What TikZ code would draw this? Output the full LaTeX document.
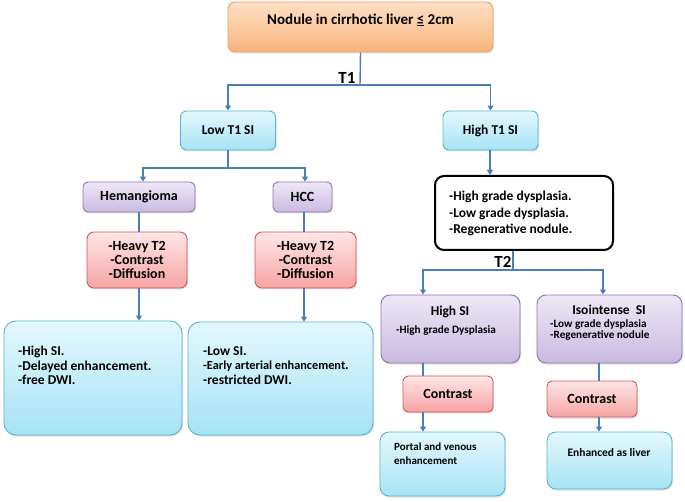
\documentclass[tikz,border=0pt]{standalone}
\usepackage{fontspec}
\setmainfont{Carlito}
\usetikzlibrary{arrows.meta,shadows}
\definecolor{lineblue}{HTML}{4A7EBB}
\definecolor{orT}{HTML}{FDE0C6}
\definecolor{orB}{HTML}{F9B47C}
\definecolor{orD}{HTML}{F5A05A}
\definecolor{blT}{HTML}{E4F8FD}
\definecolor{blB}{HTML}{A6E3F5}
\definecolor{blD}{HTML}{5AB4D0}
\definecolor{puT}{HTML}{EEE8F6}
\definecolor{puB}{HTML}{C9BAE0}
\definecolor{puD}{HTML}{8D74B0}
\definecolor{reT}{HTML}{FFE6E6}
\definecolor{reB}{HTML}{F6A3A3}
\definecolor{reD}{HTML}{CC5A57}
\tikzset{
  basebox/.style={rounded corners=7pt, line width=0.9pt, inner sep=0pt,
    drop shadow={shadow xshift=1pt, shadow yshift=-1.5pt, opacity=0.25}},
  orbox/.style={basebox, draw=orD, top color=orT, bottom color=orB},
  blbox/.style={basebox, draw=blD, top color=blT, bottom color=blB, rounded corners=12pt},
  pubox/.style={basebox, draw=puD, top color=puT, bottom color=puB},
  rebox/.style={basebox, draw=reD, top color=reT, bottom color=reB},
  bkbox/.style={rounded corners=9pt, draw=black, line width=2pt, fill=white, inner sep=0pt},
  txt/.style={font=\bfseries, align=left, inner sep=0pt},
  arr/.style={draw=lineblue, line width=1.4pt, -{Triangle[width=6pt,length=5pt]}},
  ln/.style={draw=lineblue, line width=1.4pt},
}
\begin{document}
\begin{tikzpicture}[x=1pt,y=-1pt]
\useasboundingbox (0,0) rectangle (685,502);
% boxes
\node[orbox, minimum width=265pt, minimum height=50pt] (top) at (360.5,27) {};
\node[txt, font=\bfseries\fontsize{15}{17}\selectfont] (toptxt) at (360.5,20) {Nodule in cirrhotic liver \underline{≤} 2cm};
\node[blbox, rounded corners=6pt, minimum width=95pt, minimum height=39pt, font=\bfseries\fontsize{13.5}{15}\selectfont] (lowt1) at (228,130.5) {Low T1 SI};
\node[blbox, rounded corners=6pt, minimum width=95pt, minimum height=39pt, font=\bfseries\fontsize{13.5}{15}\selectfont] (hight1) at (490.5,130.5) {High T1 SI};
\node[pubox, rounded corners=5pt, minimum width=112pt, minimum height=30pt, font=\bfseries\fontsize{14}{15}\selectfont] (hem) at (139,197) {Hemangioma};
\node[pubox, rounded corners=5pt, minimum width=59pt, minimum height=30pt, font=\bfseries\fontsize{14}{15}\selectfont] (hcc) at (302.5,197) {HCC};
\node[rebox, minimum width=100pt, minimum height=56pt, align=center, font=\bfseries\fontsize{14}{14}\selectfont] (red1) at (137,260) {-Heavy T2\\-Contrast\\-Diffusion};
\node[rebox, minimum width=101pt, minimum height=56pt, align=center, font=\bfseries\fontsize{14}{14}\selectfont] (red2) at (305.5,260) {-Heavy T2\\-Contrast\\-Diffusion};
\node[blbox, minimum width=178pt, minimum height=114pt] (blue1) at (93,378) {};
\node[txt, anchor=north west, font=\bfseries\fontsize{13.5}{14.5}\selectfont] (blue1txt) at (18,346) {-High SI.\\-Delayed enhancement.\\-free DWI.};
\node[blbox, minimum width=185pt, minimum height=113pt] (blue2) at (280.5,378.5) {};
\node[txt, anchor=north west, font=\bfseries\fontsize{13.5}{14.5}\selectfont] (blue2txt) at (203,346) {-Low SI.\\{\fontsize{12.3}{14.5}\selectfont -Early arterial enhancement}.\\-restricted DWI.};
\node[bkbox, minimum width=178pt, minimum height=74pt] (black) at (524,213) {};
\node[txt, anchor=north west, font=\bfseries\fontsize{13.5}{16.5}\selectfont] (blacktxt) at (449,191) {-High grade dysplasia.\\-Low grade dysplasia.\\-Regenerative nodule.};
\node[pubox, rounded corners=9pt, minimum width=139pt, minimum height=68pt] (hsi) at (450.5,329) {};
\node[txt, font=\bfseries\fontsize{13.5}{15}\selectfont] (hsititle) at (450,312) {High SI};
\node[txt, font=\bfseries\fontsize{11.2}{12}\selectfont] (hsisub) at (446,331) {-High grade Dysplasia};
\node[pubox, rounded corners=9pt, minimum width=145pt, minimum height=68pt] (iso) at (609.5,329) {};
\node[txt, font=\bfseries\fontsize{13.5}{15}\selectfont] (isotitle) at (609,310) {Isointense\ \ SI};
\node[txt, anchor=north west, font=\bfseries\fontsize{11.2}{11.8}\selectfont] (isosub) at (550,319) {-Low grade dysplasia\\-Regenerative nodule};
\node[rebox, rounded corners=5pt, minimum width=90pt, minimum height=36pt, font=\bfseries\fontsize{14}{15}\selectfont] (con1) at (448,394) {Contrast};
\node[rebox, rounded corners=5pt, minimum width=90pt, minimum height=36pt, font=\bfseries\fontsize{14}{15}\selectfont] (con2) at (592,399) {Contrast};
\node[blbox, rounded corners=9pt, minimum width=125pt, minimum height=64pt] (pv) at (442.5,464) {};
\node[txt, anchor=north west, font=\bfseries\fontsize{11}{14}\selectfont] (pvtxt) at (394,443) {Portal and venous\\enhancement};
\node[blbox, rounded corners=9pt, minimum width=125pt, minimum height=57pt] (en) at (609.5,460.5) {};
\node[txt, font=\bfseries\fontsize{11.5}{12}\selectfont] (entxt) at (609,453) {Enhanced as liver};
% labels
\node[txt, font=\bfseries\fontsize{17}{19}\selectfont] (t1) at (347,78) {T1};
\node[txt, font=\bfseries\fontsize{17}{19}\selectfont] (t2) at (503,262) {T2};
% connector helpers
\coordinate (j1) at (360,85);
\coordinate (j2) at (228,168);
\coordinate (j3) at (513,270);
\coordinate (xa) at (143,0);
\coordinate (xb) at (305,0);
\coordinate (xc) at (139,0);
\coordinate (xd) at (304,0);
\coordinate (xe) at (423,0);
\coordinate (xf) at (603,0);
\coordinate (xg) at (599,0);
\coordinate (xh) at (490,0);
% connectors
\draw[ln] (top.south) -- (j1);
\draw[arr] (j1) -| (lowt1.north);
\draw[arr] (j1) -| (hight1.north);
\draw[ln] (lowt1.south) -- (j2);
\draw[arr] (j2) -| (hem.north -| xa);
\draw[arr] (j2) -| (hcc.north -| xb);
\draw[ln] (hem.south -| xc) -- (red1.north -| xc);
\draw[ln] (hcc.south -| xd) -- (red2.north -| xd);
\draw[arr] (red1.south -| xc) -- (blue1.north -| xc);
\draw[arr] (red2.south -| xd) -- (blue2.north -| xd);
\draw[arr] (hight1.south -| xh) -- (black.north -| xh);
\draw[ln] (black.south -| j3) -- (j3);
\draw[arr] (j3) -| (hsi.north -| xe);
\draw[arr] (j3) -| (iso.north -| xf);
\draw[ln] (hsi.south -| xe) -- (con1.north -| xe);
\draw[arr] (con1.south -| xe) -- (pv.north -| xe);
\draw[ln] (iso.south -| xg) -- (con2.north -| xg);
\draw[arr] (con2.south -| xg) -- (en.north -| xg);
\end{tikzpicture}
\end{document}
